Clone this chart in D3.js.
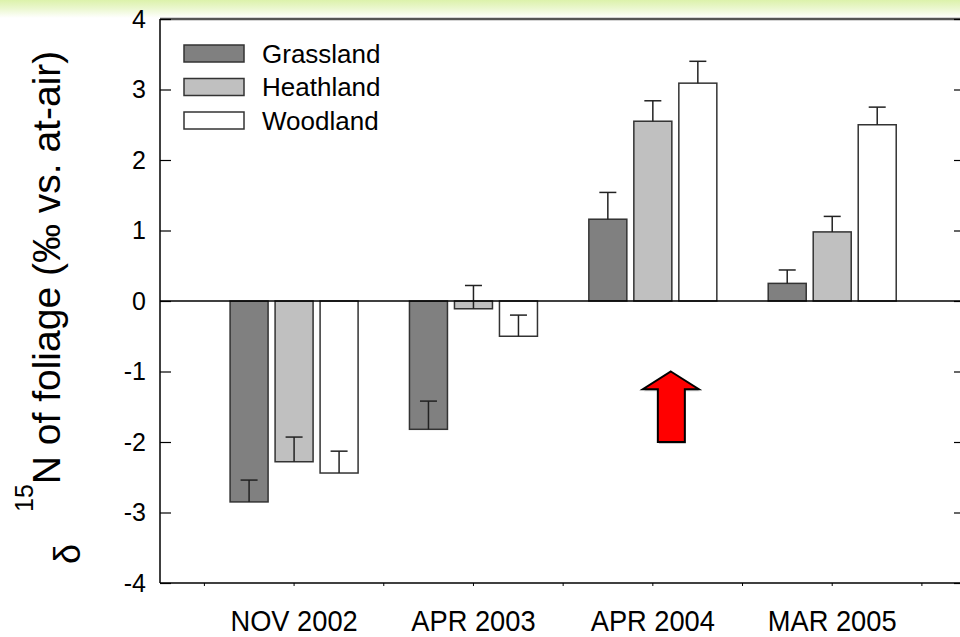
<!DOCTYPE html>
<html>
<head>
<meta charset="utf-8">
<script src="https://cdn.jsdelivr.net/npm/d3@7"></script>
<style>
  html, body { margin: 0; padding: 0; background: #fff; }
  svg { display: block; font-family: "Liberation Sans", Arial, sans-serif; }
</style>
</head>
<body>
<svg id="chart" width="960" height="637"></svg>
<script>
// Foliage δ15N by sampling date and vegetation type (mean ± SE)
const groups = ["NOV 2002", "APR 2003", "APR 2004", "MAR 2005"];
const series = ["Grassland", "Heathland", "Woodland"];
const grassland = [-2.85, -1.82, 1.16, 0.25];
const heathland = [-2.28, -0.11, 2.55, 0.98];
const woodland  = [-2.44, -0.50, 3.09, 2.50];
const grasslandErr = [0.31, 0.40, 0.38, 0.19];
const heathlandErr = [0.35, 0.33, 0.29, 0.22];
const woodlandErr  = [0.31, 0.30, 0.31, 0.25];
const yTicks = [-4, -3, -2, -1, 0, 1, 2, 3, 4];
const fills = ["#808080", "#c0c0c0", "#ffffff"];

const values = [grassland, heathland, woodland];
const errors = [grasslandErr, heathlandErr, woodlandErr];

const svg = d3.select("#chart");
const W = 960;

// header band
const defs = svg.append("defs");
const grad = defs.append("linearGradient").attr("id", "band")
  .attr("x1", 0).attr("y1", 0).attr("x2", 0).attr("y2", 1);
grad.append("stop").attr("offset", "0%").attr("stop-color", "#dcf2ab");
grad.append("stop").attr("offset", "45%").attr("stop-color", "#eaf7cd");
grad.append("stop").attr("offset", "100%").attr("stop-color", "#ffffff");
svg.append("rect").attr("x", 0).attr("y", 0).attr("width", W).attr("height", 18)
  .attr("fill", "url(#band)");

// scales
const frameL = 160, frameR = 966, frameT = 19, frameB = 583;
const y = d3.scaleLinear().domain([-4, 4]).range([frameB, frameT]);
const x = d3.scaleBand().domain(groups).range([204.4, 921.9]);
const bw = x.bandwidth();
const xi = d3.scaleBand().domain(series).range([bw / 2 - 64, bw / 2 + 64]).paddingInner(7 / 45);

// frame
svg.append("line").attr("x1", frameL).attr("x2", W).attr("y1", frameT).attr("y2", frameT)
  .attr("stroke", "#555").attr("stroke-width", 2.5);
svg.append("line").attr("x1", frameL).attr("x2", frameL).attr("y1", frameT).attr("y2", frameB)
  .attr("stroke", "#000").attr("stroke-width", 1.5);
svg.append("line").attr("x1", frameR).attr("x2", frameR).attr("y1", frameT).attr("y2", frameB)
  .attr("stroke", "#000").attr("stroke-width", 1.5);

// left axis: labels outside, ticks inward
const yAxisL = svg.append("g").attr("transform", `translate(${frameL},0)`)
  .call(d3.axisLeft(y).tickValues(yTicks).tickSize(-11).tickPadding(14).tickFormat(d => String(d)));
yAxisL.select(".domain").remove();
yAxisL.selectAll("line").attr("stroke", "#000").attr("stroke-width", 1.2);
yAxisL.selectAll("text").attr("font-size", 25).attr("fill", "#000")
  .attr("font-family", "Liberation Sans, Arial, sans-serif");

// right axis ticks
const yAxisR = svg.append("g").attr("transform", `translate(${frameR},0)`)
  .call(d3.axisRight(y).tickValues(yTicks).tickSize(-12).tickFormat(""));
yAxisR.select(".domain").remove();
yAxisR.selectAll("line").attr("stroke", "#000").attr("stroke-width", 1.2);

// bottom axis: minor ticks at band edges and centres, category labels below
const tickPos = [];
groups.forEach(g => { tickPos.push(x(g)); tickPos.push(x(g) + bw / 2); });
tickPos.push(x(groups[groups.length - 1]) + bw);
svg.append("line").attr("x1", frameL).attr("x2", W).attr("y1", frameB).attr("y2", frameB)
  .attr("stroke", "#000").attr("stroke-width", 1.5);
svg.append("g").selectAll("line").data(tickPos).join("line")
  .attr("x1", d => d).attr("x2", d => d).attr("y1", frameB).attr("y2", frameB + 3)
  .attr("stroke", "#000").attr("stroke-width", 1);
svg.append("g").selectAll("text").data(groups).join("text")
  .attr("transform", d => `translate(${x(d) + bw / 2},631) scale(0.94,1)`)
  .attr("text-anchor", "middle").attr("font-size", 29).attr("fill", "#000")
  .text(d => d);

// bars
const barData = [];
groups.forEach((g, gi) => series.forEach((s, si) => {
  barData.push({ g, s, si, v: values[si][gi], e: errors[si][gi] });
}));

const plot = svg.append("g");
plot.selectAll("rect.bar").data(barData).join("rect").attr("class", "bar")
  .attr("x", d => x(d.g) + xi(d.s))
  .attr("width", xi.bandwidth())
  .attr("y", d => y(Math.max(0, d.v)))
  .attr("height", d => Math.abs(y(d.v) - y(0)))
  .attr("fill", d => fills[d.si])
  .attr("stroke", "#333").attr("stroke-width", 1.5);

// error bars (mean + SE)
const capW = 17;
const eb = plot.selectAll("g.err").data(barData).join("g").attr("class", "err")
  .attr("stroke", "#222").attr("stroke-width", 1.5);
eb.append("line")
  .attr("x1", d => x(d.g) + xi(d.s) + xi.bandwidth() / 2)
  .attr("x2", d => x(d.g) + xi(d.s) + xi.bandwidth() / 2)
  .attr("y1", d => y(d.v)).attr("y2", d => y(d.v + d.e));
eb.append("line")
  .attr("x1", d => x(d.g) + xi(d.s) + xi.bandwidth() / 2 - capW / 2)
  .attr("x2", d => x(d.g) + xi(d.s) + xi.bandwidth() / 2 + capW / 2)
  .attr("y1", d => y(d.v + d.e)).attr("y2", d => y(d.v + d.e));

// zero line
svg.append("line").attr("x1", frameL).attr("x2", W).attr("y1", y(0)).attr("y2", y(0))
  .attr("stroke", "#000").attr("stroke-width", 1.5);

// arrow marking APR 2004
const ax = x("APR 2004") + bw / 2 + 18;
const aTop = y(-1), aBase = y(-2), aHead = y(-1.25);
const arrowPts = [
  [ax, aTop], [ax + 28, aHead], [ax + 14, aHead], [ax + 14, aBase],
  [ax - 13, aBase], [ax - 13, aHead], [ax - 28, aHead]
];
svg.append("polygon").attr("points", arrowPts.map(p => [p[0] + 1, p[1] + 2].join(",")).join(" "))
  .attr("fill", "#999").attr("opacity", 0.5);
svg.append("polygon").attr("points", arrowPts.map(p => p.join(",")).join(" "))
  .attr("fill", "#ff0000").attr("stroke", "#000").attr("stroke-width", 2)
  .attr("stroke-linejoin", "miter");

// legend
const legend = svg.append("g");
series.forEach((s, i) => {
  const ly = 45 + i * 33.5;
  legend.append("rect").attr("x", 184).attr("y", ly).attr("width", 60).attr("height", 17)
    .attr("fill", fills[i]).attr("stroke", "#333").attr("stroke-width", 1.5);
  legend.append("text").attr("x", 262).attr("y", ly + 17.5)
    .attr("font-size", 26).attr("fill", "#000").text(s);
});

// y-axis title
svg.append("text").attr("transform", "translate(80,564) rotate(-90)")
  .attr("font-size", 36).attr("fill", "#000").text("δ");
const title = svg.append("text").attr("transform", "translate(60,512) rotate(-90)")
  .attr("font-size", 39).attr("fill", "#000");
title.append("tspan").attr("font-size", 25).attr("dy", -27).text("15");
title.append("tspan").attr("dy", 27).text("N of foliage (‰ vs. at-air)");
</script>
</body>
</html>
